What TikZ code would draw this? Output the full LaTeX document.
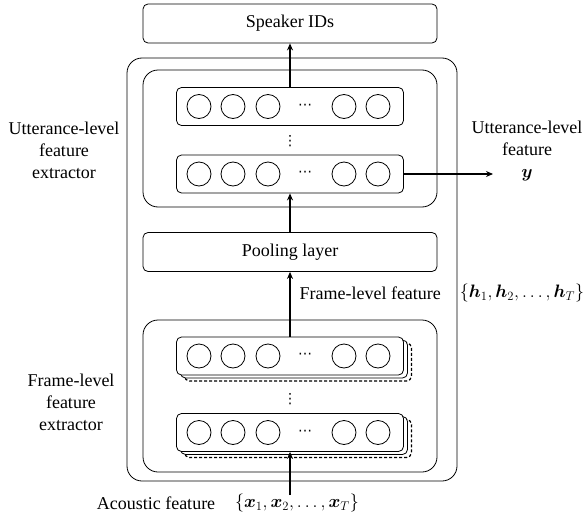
\documentclass[tikz,border=0pt]{standalone}
\usepackage{fix-cm}
\usepackage{amsmath,bm}
\usepackage{fontspec}
\setmainfont{Liberation Serif}
\newfontfamily\symfont{DejaVu Sans}
\usetikzlibrary{arrows.meta}

\begin{document}
\begin{tikzpicture}[
                x=1pt, y=-1pt,
                line join=round,
                font=\fontsize{18}{22}\selectfont,
                blockbox/.style={shape=rectangle, draw=black, line width=0.8pt, rounded corners=5pt, minimum width=294pt, minimum height=39pt, inner sep=0pt},
                groupbox/.style={shape=rectangle, draw=black, line width=0.8pt, rounded corners=15pt, minimum width=294pt, inner sep=0pt},
                layerrow/.style={shape=rectangle, draw=black, fill=white, line width=0.8pt, rounded corners=5pt, minimum width=227pt, minimum height=38pt, inner sep=0pt},
                neuron/.style={shape=circle, draw=black, line width=0.8pt, minimum size=24pt, inner sep=0pt},
                dotsmark/.style={inner sep=0pt, font=\symfont\fontsize{14}{14}\selectfont},
                flowarrow/.style={-{Stealth[length=7pt, width=6pt]}, line width=1.5pt}
                ]
                \useasboundingbox (0,0) rectangle (584,522);

                %% Boxes
                \node[groupbox, minimum width=330pt, minimum height=423pt] (outer) at (292,269.5) {};
                \node[blockbox] (spk) at (290,23.5) {Speaker IDs};
                \node[groupbox, minimum height=137pt] (uttgroup) at (290,138.5) {};
                \node[groupbox, minimum height=152pt] (framegroup) at (290,396) {};
                \node[blockbox] (pool) at (290,252) {Pooling layer};

                        % Utterance-level layers
                        \foreach \row/\y in {urowa/106.5, urowb/174} {
                            \node[layerrow] (\row) at (290,\y) {};
                        }

                        % Frame-level layers, with stacked copies
                        \foreach \row/\y in {frowa/356, frowb/432.5} {
                            \node[layerrow, line width=1.2pt, dash pattern=on 3pt off 2pt] (\row-back) at (298,\y+6) {};
                            \node[layerrow] (\row-mid) at (294,\y+3) {};
                            \node[layerrow] (\row) at (290,\y) {};
                        }

                        % Neurons
                        \foreach \row/\y in {urowa/106.5, urowb/174, frowa/356, frowb/432.5} {
                            \foreach \x in {199, 233, 268, 344, 378} {
                                \node[neuron] (\row-\x) at (\x,\y) {};
                            }
                            \node[dotsmark] (\row-dots) at (305,\y) {⋯};
                        }

                        \node[dotsmark] (uttvdots) at (290,141) {⋮};
                        \node[dotsmark] (framevdots) at (290,399) {⋮};

                %% Arrows
                \coordinate (acin) at (290,495);
                \coordinate (uttout) at (493,174);
                \draw[flowarrow] (acin) -- (frowb.south);
                \draw[flowarrow] (frowa.north) -- (pool.south);
                \draw[flowarrow] (pool.north) -- (urowb.south);
                \draw[flowarrow] (urowa.north) -- (spk.south);
                \draw[flowarrow] (urowb.east) -- (uttout);

                %% Labels
                \node[align=center] (uttlabel) at (64,150) {Utterance-level\\feature\\extractor};
                \node[align=center] (uttfeat) at (527,151) {Utterance-level\\feature\\$\bm{y}$};
                \node[align=center] (framelabel) at (71,402) {Frame-level\\feature\\extractor};
                \node[anchor=west] (framefeat) at (296,293) {Frame-level feature};
                \node (hset) at (522,293) {$\{\bm{h}_1, \bm{h}_2, \ldots, \bm{h}_T\}$};
                \node (aclabel) at (156,503) {Acoustic feature};
                \node (xset) at (297,503) {$\{\bm{x}_1, \bm{x}_2, \ldots, \bm{x}_T\}$};
\end{tikzpicture}
\end{document}
